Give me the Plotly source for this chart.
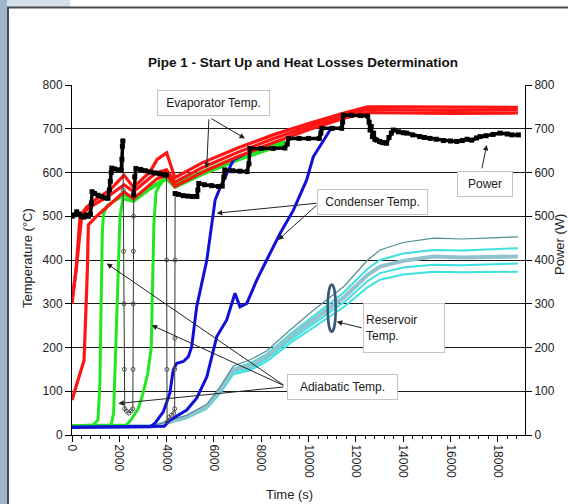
import plotly.graph_objects as go

# ---------------- data ----------------
# Evaporator (red) temperatures
red1_t = [0, 170, 340, 600, 1000, 1600, 2200, 2600, 3300, 3600, 4000, 4350, 5500, 7000, 8500, 10000, 11500, 12500, 14000, 16000, 18850]
red1_T = [308, 376, 500, 520, 538, 560, 594, 566, 602, 630, 645, 588, 622, 656, 686, 712, 736, 750, 750, 749, 749]
red2_t = [0, 200, 420, 800, 1200, 1600, 2200, 2600, 3300, 3600, 4000, 4350, 5500, 7000, 8500, 10000, 11500, 12500, 14000, 16000, 18850]
red2_T = [300, 390, 505, 522, 535, 548, 572, 556, 588, 600, 606, 578, 611, 646, 677, 705, 730, 744, 743, 742, 743]
red3_t = [0, 510, 650, 690, 1040, 1600, 2200, 2600, 3300, 3600, 4000, 4350, 5500, 7000, 8500, 10000, 11500, 12500, 14000, 16000, 18850]
red3_T = [80, 171, 377, 480, 500, 528, 556, 540, 573, 586, 594, 568, 600, 636, 668, 698, 724, 737, 736, 735, 736]

# Adiabatic (green) temperatures
g1_t = [0, 900, 1100, 1180, 1230, 1280, 1330, 1500, 1800, 2200, 2600, 3300, 4000, 4350, 5500, 7000, 8000, 9000]
g1_T = [20, 23, 35, 120, 300, 460, 505, 525, 535, 548, 538, 566, 588, 570, 598, 632, 650, 668]
g2_t = [0, 1650, 1760, 1850, 1950, 2030, 2150, 2600, 3300, 4000, 4350, 5500, 7000, 8000, 9000]
g2_T = [21, 22, 50, 200, 400, 500, 540, 534, 562, 585, 566, 595, 628, 647, 665]
g3_t = [0, 2300, 2500, 2800, 3000, 3200, 3350, 3420, 3460, 3550, 3700, 4000, 4350, 5500, 7000, 8000, 9000]
g3_T = [22, 23, 35, 60, 95, 140, 200, 350, 480, 555, 570, 591, 573, 602, 636, 654, 672]

# Condenser (blue) temperatures
b1_t = [0, 3300, 3510, 3860, 4140, 4280, 4430, 4710, 4920, 5060, 5270, 5700, 6050, 6260, 6820, 7300]
b1_T = [18, 19, 27, 53, 96, 149, 164, 168, 179, 202, 293, 400, 537, 565, 629, 642]
b2_t = [0, 3900, 4140, 4850, 5270, 5700, 6120, 6540, 6890, 7100, 7390, 7810, 8230, 8800, 9360, 9920, 10200, 10910, 11100]
b2_T = [18, 20, 34, 57, 84, 133, 225, 263, 324, 293, 301, 354, 400, 461, 514, 583, 636, 697, 703]

# Reservoir (cyan) temperatures
res_t = [0, 3500, 4850, 5700, 6260, 6820, 7530, 8230, 9220, 10200, 11480, 12500, 13020, 14000, 15280, 16500, 17500, 18850]
res1_T = [20, 22, 45, 70, 110, 158, 172, 192, 240, 285, 339, 400, 423, 440, 450, 448, 450, 453]
res2_T = [20, 21, 43, 67, 106, 152, 164, 185, 230, 272, 325, 380, 400, 415, 423, 422, 424, 427]
res3_T = [20, 20, 42, 65, 103, 149, 158, 180, 224, 264, 314, 366, 385, 398, 408, 406, 407, 408]
res4_T = [19, 20, 40, 62, 99, 144, 153, 174, 217, 255, 303, 352, 370, 383, 389, 388, 390, 392]
res5_T = [19, 19, 38, 60, 95, 139, 148, 168, 210, 246, 292, 338, 355, 367, 373, 372, 373, 373]

# Power (W) plateaus
power_t = [0, 100, 200, 300, 400, 500, 600, 700, 780, 820, 850, 950, 1100, 1250, 1400, 1520, 1580, 1620, 1660, 1680,
           1800, 1960, 2080, 2110, 2130, 2150, None,
           2610, 2650, 2700, 2900, 3100, 3300, 3500, 3700, 3900, 3990, None,
           4360, 4500, 4700, 4900, 5100, 5280, 5320, 5360, 5600, 5900, 6200, 6350, 6420, 6460, 6800, 7100, 7400,
           7480, 7520, 8000, 8500, 9000, 9100, 9150, 9600, 10000, 10450, 10520, 10560, 11000, 11400, 11440, 11470,
           11800, 12200, 12500, 12560, 12600, 12650, 12700, 12750, 12800, 12880, 13000, 13100, 13200, 13300, 13400,
           13500, 13580, 13800, 14000, 14150, 14400, 14700, 14900, 15140, 15400, 15700, 16000, 16270, 16500, 16700,
           16900, 17100, 17250, 17500, 17800, 18100, 18400, 18600, 18870]
power_W = [500, 503, 510, 505, 500, 498, 503, 500, 505, 530, 556, 552, 548, 545, 542, 541, 560, 580, 600, 610,
           608, 606, 605, 630, 660, 672, None,
           549, 590, 609, 607, 604, 601, 599, 597, 595, 594, None,
           552, 550, 547, 546, 545, 545, 560, 575, 572, 570, 568, 569, 590, 606, 604, 603, 602,
           620, 655, 655, 655, 656, 665, 678, 678, 678, 678, 690, 701, 701, 701, 715, 731,
           731, 730, 729, 715, 697, 705, 682, 690, 676, 674, 671, 669, 668, 667, 680,
           690, 697, 693, 691, 690, 686, 682, 680, 678, 676, 673, 672, 671, 673, 676,
           674, 679, 682, 684, 687, 690, 688, 686, 686]

# Power drop-outs
drop_t = [2150, 2165, 2180, 2200, 2215, 2230, 2300, 2400, 2500, 2570, 2580, 2590, 2595, 2600, 2610, None,
          3990, 4000, 4010, 4020, 4100, 4200, 4300, 4340, 4345, 4350, 4355, 4360]
drop_W = [672, 560, 420, 300, 150, 60, 55, 50, 55, 60, 150, 300, 420, 500, 549, None,
          594, 400, 150, 30, 40, 45, 50, 60, 150, 221, 400, 552]

title_text = "Pipe 1 - Start Up and Heat Losses Determination"
x_ticks = [0, 2000, 4000, 6000, 8000, 10000, 12000, 14000, 16000, 18000]
y_ticks = [0, 100, 200, 300, 400, 500, 600, 700, 800]

# ---------------- layout helpers ----------------
W, H = 568, 504
L, R, T, B = 72, 525, 85, 435
FONT = "Liberation Sans, Arial, sans-serif"


def pxx(px):
    return (px - L) / (R - L)


def pxy(py):
    return (B - py) / (B - T)


fig = go.Figure()

RED = "#ff1414"
GREEN = "#22e622"
BLUE = "#1010d8"
CYAN = "#3ee0e0"

for tt, yy, w in [(res_t, res5_T, 2), (res_t, res4_T, 2), (res_t, res2_T, 2)]:
    fig.add_trace(go.Scatter(x=tt, y=yy, mode="lines", line=dict(color=CYAN, width=w), showlegend=False))
fig.add_trace(go.Scatter(x=res_t, y=res3_T, mode="lines", line=dict(color="#93c2cf", width=4), showlegend=False))
fig.add_trace(go.Scatter(x=res_t, y=res1_T, mode="lines", line=dict(color="#4f8f92", width=1.2), showlegend=False))

for tt, yy in [(g1_t, g1_T), (g2_t, g2_T), (g3_t, g3_T)]:
    fig.add_trace(go.Scatter(x=tt, y=yy, mode="lines", line=dict(color=GREEN, width=3), showlegend=False))

for tt, yy in [(b1_t, b1_T), (b2_t, b2_T)]:
    fig.add_trace(go.Scatter(x=tt, y=yy, mode="lines", line=dict(color=BLUE, width=3), showlegend=False))

for tt, yy in [(red1_t, red1_T), (red2_t, red2_T), (red3_t, red3_T)]:
    fig.add_trace(go.Scatter(x=tt, y=yy, mode="lines", line=dict(color=RED, width=3.2), showlegend=False))

fig.add_trace(go.Scatter(x=drop_t, y=drop_W, mode="lines+markers", yaxis="y2",
                         line=dict(color="#333333", width=1),
                         marker=dict(symbol="circle-open", size=4, color="#555555"),
                         showlegend=False, connectgaps=False))
fig.add_trace(go.Scatter(x=power_t, y=power_W, mode="lines+markers", yaxis="y2",
                         line=dict(color="black", width=3.5),
                         marker=dict(symbol="square", size=5, color="black"),
                         showlegend=False, connectgaps=False))

axis_font = dict(family=FONT, size=12, color="#222")

fig.update_layout(
    width=W, height=H,
    margin=dict(l=L, r=W - R, t=T, b=H - B, autoexpand=False),
    paper_bgcolor="white", plot_bgcolor="white",
    title=dict(text="<b>" + title_text + "</b>", x=303 / W, y=1 - 62 / H, xref="container", yref="container",
               xanchor="center", yanchor="middle", font=dict(family=FONT, size=13.5, color="#111")),
    xaxis=dict(range=[0, 19150], tickvals=x_ticks, ticktext=[str(v) for v in x_ticks], tickangle=90,
               ticks="outside", ticklen=6, tickcolor="black", showline=True, linecolor="black", linewidth=1,
               showgrid=False, zeroline=False, tickfont=axis_font,
               minor=dict(dtick=400, ticks="outside", ticklen=3, tickcolor="black", showgrid=False)),
    yaxis=dict(range=[0, 800], tickvals=y_ticks, ticks="outside", ticklen=6, tickcolor="black",
               showline=True, linecolor="black", linewidth=1, showgrid=True, gridcolor="#1a1a1a", gridwidth=1,
               zeroline=False, tickfont=axis_font),
    yaxis2=dict(range=[0, 800], tickvals=y_ticks, overlaying="y", side="right", ticks="outside", ticklen=6,
                tickcolor="black", showline=True, linecolor="black", linewidth=1, showgrid=False,
                zeroline=False, tickfont=axis_font),
)

# frame decoration (screenshot border), drawn as thick lines
shapes = [
    dict(type="line", xref="paper", yref="paper", x0=pxx(3.5), x1=pxx(3.5), y0=pxy(504), y1=pxy(0),
         line=dict(color="#9cb6cb", width=7), layer="above"),
    dict(type="line", xref="paper", yref="paper", x0=pxx(7), x1=pxx(70), y0=pxy(3.5), y1=pxy(3.5),
         line=dict(color="#d3e0ea", width=7), layer="above"),
    dict(type="line", xref="paper", yref="paper", x0=pxx(7), x1=pxx(568), y0=pxy(7.5), y1=pxy(7.5),
         line=dict(color="#4a4a4a", width=2), layer="above"),
    dict(type="line", xref="paper", yref="paper", x0=pxx(8), x1=pxx(8), y0=pxy(504), y1=pxy(7),
         line=dict(color="#4a4a4a", width=2), layer="above"),
    # ellipse marking reservoir lines
    dict(type="circle", xref="x", yref="y", x0=10810, x1=11150, y0=236, y1=344,
         line=dict(color="#3a5878", width=2.5)),
]
fig.update_layout(shapes=shapes)

ann = []
# axis titles
ann.append(dict(text="Temperature (°C)", x=pxx(27), y=pxy(258), xref="paper", yref="paper", textangle=-90,
                xanchor="center", yanchor="middle",
                showarrow=False, font=dict(family=FONT, size=13, color="#222")))
ann.append(dict(text="Power (W)", x=pxx(559), y=pxy(245), xref="paper", yref="paper", textangle=-90,
                xanchor="center", yanchor="middle",
                showarrow=False, font=dict(family=FONT, size=13, color="#222")))
ann.append(dict(text="Time (s)", x=pxx(289), y=pxy(494), xref="paper", yref="paper",
                xanchor="center", yanchor="middle",
                showarrow=False, font=dict(family=FONT, size=13, color="#222")))

# arrows (head -> tail in data coords)
arrows = [
    (5694, 610, 5790, 725), (7313, 678, 5830, 725),          # evaporator
    (6117, 507, 10400, 530), (8720, 446, 10400, 528),        # condenser
    (17530, 663, 17318, 606),                                # power
    (11190, 259, 12313, 244),                                # reservoir
    (1467, 392, 9000, 112), (3369, 251, 9000, 112), (1957, 72, 9000, 110),  # adiabatic
]
for hx, hy, tx, ty in arrows:
    ann.append(dict(x=hx, y=hy, ax=tx, ay=ty, xref="x", yref="y", axref="x", ayref="y", text="",
                    showarrow=True, arrowhead=2, arrowsize=1.1, arrowwidth=1, arrowcolor="#222"))

box_font = dict(family=FONT, size=12, color="#1a1a1a")
boxes = [
    ("Evaporator Temp.", 213, 103, 113, 26, "center"),
    ("Condenser Temp.", 372, 202, 111, 26, "center"),
    ("Power", 485, 184, 56, 26, "center"),
    ("Reservoir<br>Temp.", 404, 328, 82, 50, "left"),
    ("Adiabatic Temp.", 342, 387, 111, 26, "center"),
]
for txt, cx, cy, bw, bh, al in boxes:
    ann.append(dict(text=txt, x=pxx(cx), y=pxy(cy), xref="paper", yref="paper", showarrow=False,
                    xanchor="center", yanchor="middle",
                    width=bw - 6, height=bh - 6, align=al, valign="middle", bgcolor="white",
                    bordercolor="#c4c4c4", borderwidth=1, borderpad=2, font=box_font))
fig.update_layout(annotations=ann)

fig.write_html("out.html", config={"displayModeBar": False},
               post_script="document.body.style.margin='0';document.body.style.overflow='hidden';")
